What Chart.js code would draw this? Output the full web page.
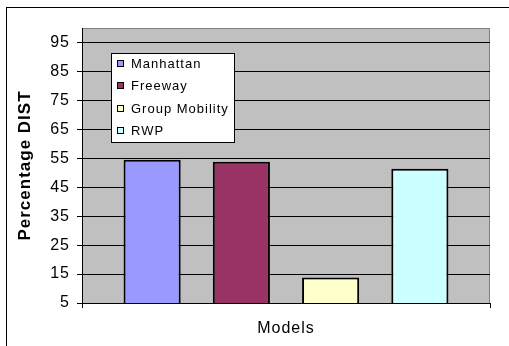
<!DOCTYPE html>
<html>
<head>
<meta charset="utf-8">
<script src="https://cdn.jsdelivr.net/npm/chart.js@4.4.1/dist/chart.umd.min.js"></script>
<style>
  html, body { margin: 0; padding: 0; background: #fff; overflow: hidden; }
  #wrap { position: relative; width: 509px; height: 346px; overflow: hidden; }
  #frame { position: absolute; left: 6px; top: 7px; width: 560px; height: 400px; border: 1px solid #000; }
  #chart { position: absolute; left: 0; top: 0; }
</style>
</head>
<body>
<div id="wrap">
  <div id="frame"></div>
  <canvas id="chart" width="509" height="346"></canvas>
</div>
<script>
/* ========================================
   Mobility model comparison - DIST bar chart
   ======================================== */

// ── data ──
var categories = ['Models'];
var seriesNames = ['Manhattan', 'Freeway', 'Group Mobility', 'RWP'];
var seriesValues = [54.5, 53.8, 13.8, 51.4];
var seriesColors = ['#9999FF', '#993366', '#FFFFCC', '#CCFFFF'];
var yTicks = [5, 15, 25, 35, 45, 55, 65, 75, 85, 95];

var FONT = "'Liberation Sans', Arial, sans-serif";

// ── plot area: gray fill, gray top/right edge, wide text spacing ──
var plotArea = {
  id: 'plotArea',
  beforeDraw: function(chart) {
    var ctx = chart.ctx;
    var a = chart.chartArea;
    ctx.letterSpacing = '1px';
    ctx.save();
    ctx.fillStyle = '#C0C0C0';
    ctx.fillRect(a.left, a.top, a.right - a.left, a.bottom - a.top);
    ctx.strokeStyle = '#808080';
    ctx.lineWidth = 1;
    ctx.beginPath();
    ctx.moveTo(a.left, Math.round(a.top) + 0.5);
    ctx.lineTo(Math.round(a.right) - 0.5, Math.round(a.top) + 0.5);
    ctx.lineTo(Math.round(a.right) - 0.5, a.bottom);
    ctx.stroke();
    ctx.restore();
  }
};

// ── boxed legend inside the plot ──
var boxLegend = {
  id: 'boxLegend',
  afterDatasetsDraw: function(chart) {
    var ctx = chart.ctx;
    ctx.save();
    ctx.fillStyle = '#fff';
    ctx.fillRect(111.5, 53.5, 123, 89);
    ctx.strokeStyle = '#000';
    ctx.lineWidth = 1;
    ctx.strokeRect(111.5, 53.5, 123, 89);
    ctx.font = '13px ' + FONT;
    ctx.textAlign = 'left';
    ctx.textBaseline = 'middle';
    chart.data.datasets.forEach(function(ds, i) {
      var y = Math.round(64 + i * 22.4);
      ctx.fillStyle = ds.backgroundColor;
      ctx.fillRect(117.5, y - 3.5, 6, 6);
      ctx.strokeRect(117.5, y - 3.5, 6, 6);
      ctx.fillStyle = '#000';
      ctx.fillText(ds.label, 131, y);
    });
    ctx.restore();
  }
};

var datasets = seriesNames.map(function(name, i) {
  return {
    label: name,
    data: [seriesValues[i]],
    backgroundColor: seriesColors[i],
    borderColor: '#000',
    borderWidth: 2,
    borderSkipped: 'start',
    categoryPercentage: 0.875,
    barPercentage: 0.64
  };
});

new Chart(document.getElementById('chart').getContext('2d'), {
  type: 'bar',
  data: { labels: categories, datasets: datasets },
  options: {
    responsive: false,
    animation: false,
    layout: { padding: { top: 28, right: 19, left: 0, bottom: 0 } },
    plugins: {
      legend: { display: false },
      tooltip: { enabled: false }
    },
    scales: {
      x: {
        grid: { display: true, drawOnChartArea: false, drawTicks: true, tickLength: 5, color: '#000', offset: true },
        border: { display: true, color: '#000', width: 1 },
        ticks: { color: '#000', font: { family: FONT, size: 16 }, padding: 11 },
        afterFit: function(s) { s.height = 43; }
      },
      y: {
        min: 5,
        max: 100,
        afterBuildTicks: function(s) {
          s.ticks = yTicks.map(function(v) { return { value: v }; });
        },
        grid: { color: '#000', lineWidth: 1, drawTicks: true, tickLength: 5 },
        border: { display: true, color: '#000', width: 1 },
        ticks: { color: '#000', font: { family: FONT, size: 16 }, padding: 7 },
        title: {
          display: true,
          text: 'Percentage DIST',
          color: '#000',
          font: { family: FONT, size: 17, weight: 'bold' },
          padding: { top: 15, bottom: 0 }
        },
        afterFit: function(s) { s.width = 82; }
      }
    }
  },
  plugins: [plotArea, boxLegend]
});
</script>
</body>
</html>
